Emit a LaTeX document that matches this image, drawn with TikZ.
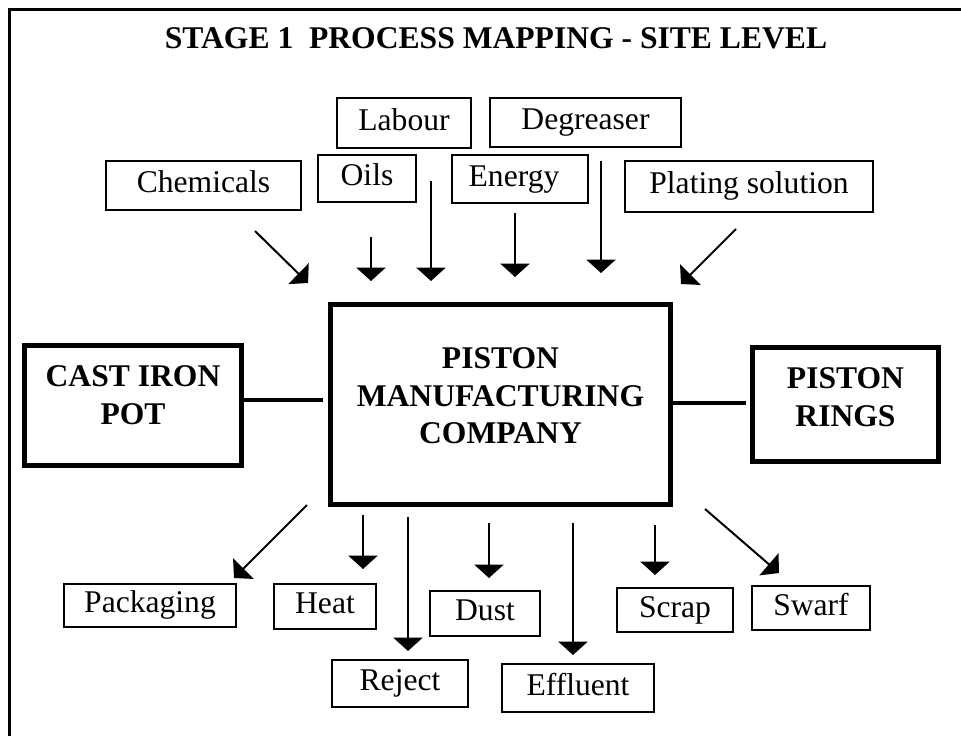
\documentclass[tikz,border=0pt]{standalone}
\usepackage{fontspec}
\setmainfont{Liberation Serif}
\usetikzlibrary{arrows.meta}
\newcommand{\fsz}{\fontsize{23.7pt}{28.1pt}\selectfont}
\tikzset{
  box/.style 2 args={draw, line width=1.1pt, inner sep=0pt, minimum width=#1*0.75pt, minimum height=#2*0.75pt,
    text height=16.6pt, text depth=6.1pt, font=\fsz},
  bigbox/.style 2 args={draw, line width=3.5pt, inner sep=0pt, minimum width=#1*0.75pt, minimum height=#2*0.75pt},
  bigtext/.style={align=center, inner sep=0pt, font=\fsz\bfseries},
  arr/.style={line width=1.5pt, -{Triangle[width=21.75pt,length=10pt]}},
  link/.style={line width=3.5pt},
  frame/.style={line width=2pt, line join=miter},
}
\begin{document}
\begin{tikzpicture}[x=0.75pt,y=-0.75pt]
\useasboundingbox (0,0) rectangle (961,736);
\draw[frame] (9.3,736) -- (9.3,9.3) -- (961,9.3);
\node[anchor=base, inner sep=0pt, font=\fsz\bfseries] (title) at (496,48) {STAGE 1\ \ PROCESS MAPPING - SITE LEVEL};

% input boxes
\node[box={195}{49}] (chem) at (203.5,185.5) {Chemicals};
\node[box={134}{50}] (labour) at (404,123) {Labour};
\node[box={98}{47}] (oils) at (367,178.5) {Oils};
\node[box={136}{48}] (energy) at (520,179) {Energy\hspace*{9pt}};
\node[box={191}{49}] (degr) at (585.5,122.5) {Degreaser};
\node[box={248}{51}] (plat) at (749,186.5) {Plating solution};

% output boxes
\node[box={172}{43}] (pack) at (150,605.5) {Packaging};
\node[box={102}{45}] (heat) at (325,606.5) {Heat};
\node[box={110}{45}] (dust) at (485,613.5) {Dust};
\node[box={136}{47}] (reject) at (400,683.5) {Reject};
\node[box={152}{48}] (effl) at (578,688) {Effluent};
\node[box={116}{44}] (scrap) at (675,610) {Scrap};
\node[box={118}{44}] (swarf) at (811,608) {Swarf};

% main boxes
\node[bigbox={340}{200}] (pmc) at (500.5,404.5) {};
\node[bigtext] (pmcT) at (500.5,396) {PISTON\\MANUFACTURING\\COMPANY};
\node[bigbox={217.3}{120.3}] (cast) at (133,405.5) {};
\node[bigtext] (castT) at (133,395) {CAST IRON\\POT};
\node[bigbox={186.3}{114.3}] (rings) at (845.5,404.5) {};
\node[bigtext] (ringsT) at (845.5,397) {PISTON\\RINGS};

% links
\draw[link, shorten >=3.75pt] (cast.east |- 0,400) -- (pmc.west |- 0,400);
\draw[link, shorten >=3pt] (pmc.east |- 0,403) -- (rings.west |- 0,403);

% input arrow ends
\coordinate (chemS) at (255,231);   \coordinate (chemE) at (308,283);
\coordinate (oilsS) at (371,237);   \coordinate (oilsE) at (371,281);
\coordinate (labS) at (431,181);    \coordinate (labE) at (431,281);
\coordinate (enS) at (515,213);     \coordinate (enE) at (515,277);
\coordinate (degS) at (601,161);    \coordinate (degE) at (601,273);
\coordinate (platS) at (736,229);   \coordinate (platE) at (681,284);
\draw[arr] (chemS) -- (chemE);
\draw[arr] (oilsS) -- (oilsE);
\draw[arr] (labS) -- (labE);
\draw[arr] (enS) -- (enE);
\draw[arr] (degS) -- (degE);
\draw[arr] (platS) -- (platE);

% output arrow ends
\coordinate (packS) at (307,505);   \coordinate (packE) at (234,578);
\coordinate (heatS) at (363,515);   \coordinate (heatE) at (363,569);
\coordinate (rejS) at (408,517);    \coordinate (rejE) at (408,651);
\coordinate (dustS) at (489,523);   \coordinate (dustE) at (489,578);
\coordinate (effS) at (573,523);    \coordinate (effE) at (573,655);
\coordinate (scrS) at (655,525);    \coordinate (scrE) at (655,575);
\coordinate (swS) at (705,509);     \coordinate (swE) at (779,573);
\draw[arr] (packS) -- (packE);
\draw[arr] (heatS) -- (heatE);
\draw[arr] (rejS) -- (rejE);
\draw[arr] (dustS) -- (dustE);
\draw[arr] (effS) -- (effE);
\draw[arr] (scrS) -- (scrE);
\draw[arr] (swS) -- (swE);
\end{tikzpicture}
\end{document}
